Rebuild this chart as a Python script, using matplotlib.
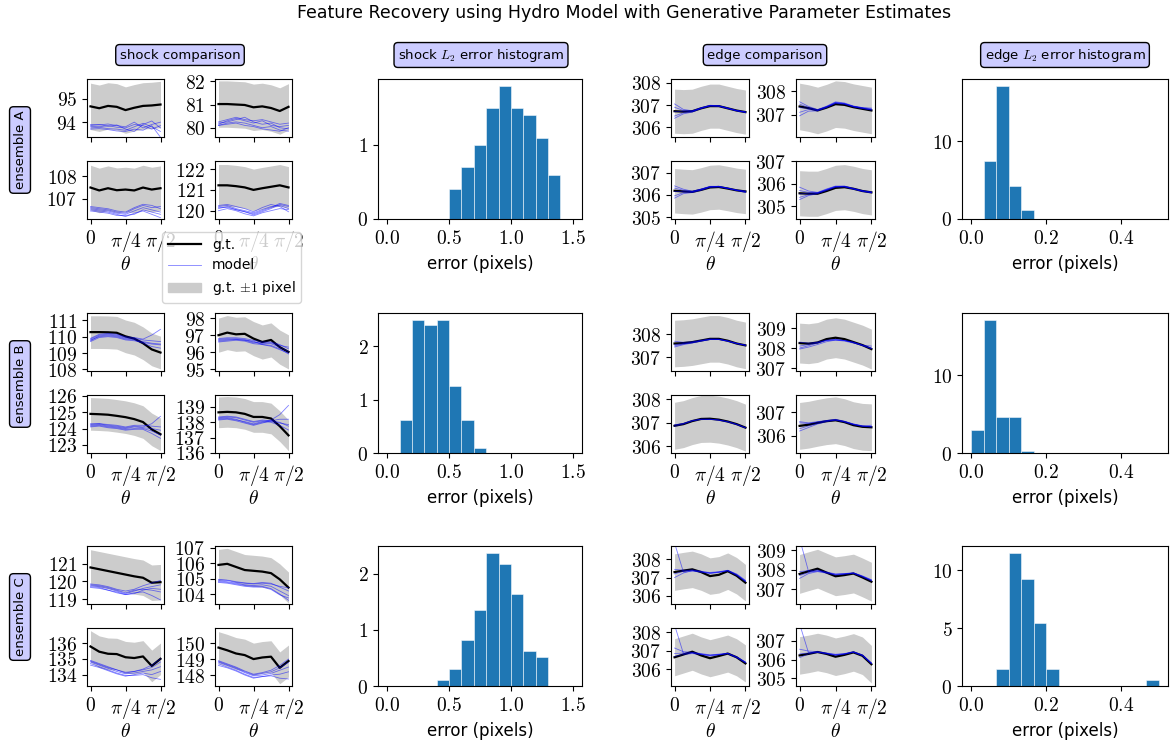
import numpy as np
import matplotlib
matplotlib.use('Agg')
import matplotlib.pyplot as plt
from matplotlib.ticker import MultipleLocator, FormatStrFormatter
from matplotlib.lines import Line2D
from matplotlib.patches import Patch

plt.rcParams['font.family'] = 'DejaVu Sans'
plt.rcParams['mathtext.fontset'] = 'cm'
plt.rcParams['font.size'] = 12
plt.rcParams['xtick.labelsize'] = 14
plt.rcParams['ytick.labelsize'] = 14

W, H = 1170, 751

# angle samples for the comparison panels (0 .. pi/2)
theta = np.linspace(0, np.pi / 2, 9)

# ---- shock comparison: panels ordered top-left, top-right, bottom-left, bottom-right
shock_gt_A = [
    [94.68, 94.60, 94.70, 94.66, 94.52, 94.62, 94.70, 94.72, 94.76],
    [81.02, 81.02, 81.00, 80.98, 80.88, 80.92, 80.85, 80.72, 80.90],
    [107.50, 107.37, 107.47, 107.38, 107.41, 107.37, 107.50, 107.41, 107.47],
    [121.22, 121.22, 121.18, 121.12, 121.00, 121.08, 121.15, 121.22, 121.12],
]
shock_model_A = [
    [[93.82, 93.80, 93.85, 93.78, 93.75, 93.90, 93.85, 93.70, 93.85],
     [93.75, 93.78, 93.72, 93.70, 93.65, 93.80, 93.95, 93.80, 93.60],
     [93.90, 93.88, 93.92, 93.85, 93.80, 94.00, 93.75, 93.90, 94.00],
     [93.70, 93.72, 93.68, 93.62, 93.60, 93.70, 93.65, 93.85, 93.35],
     [93.85, 93.90, 93.82, 93.88, 93.70, 93.60, 93.90, 94.05, 93.75]],
    [[80.15, 80.30, 80.40, 80.30, 80.20, 80.30, 80.10, 80.05, 80.10],
     [80.20, 80.25, 80.35, 80.45, 80.25, 80.15, 80.20, 80.00, 79.95],
     [80.10, 80.20, 80.25, 80.20, 80.10, 80.00, 80.05, 79.90, 79.85],
     [80.25, 80.35, 80.45, 80.35, 80.30, 80.35, 80.25, 80.15, 80.20],
     [80.10, 80.15, 80.20, 80.10, 80.05, 79.95, 79.90, 79.85, 80.00]],
    [[106.55, 106.50, 106.45, 106.35, 106.30, 106.45, 106.60, 106.50, 106.40],
     [106.60, 106.55, 106.50, 106.40, 106.35, 106.55, 106.70, 106.60, 106.65],
     [106.50, 106.45, 106.40, 106.30, 106.20, 106.35, 106.45, 106.30, 106.15],
     [106.65, 106.60, 106.55, 106.45, 106.40, 106.60, 106.75, 106.70, 106.55],
     [106.45, 106.40, 106.35, 106.25, 106.25, 106.30, 106.50, 106.40, 106.30]],
    [[120.20, 120.25, 120.10, 120.00, 119.90, 120.05, 120.20, 120.25, 120.10],
     [120.10, 120.20, 120.05, 119.95, 119.80, 119.95, 120.10, 120.30, 120.20],
     [120.25, 120.30, 120.20, 120.10, 119.95, 120.15, 120.30, 120.20, 119.95],
     [120.00, 120.10, 120.00, 119.85, 119.75, 119.90, 120.00, 120.10, 120.05],
     [120.15, 120.15, 120.05, 119.95, 119.85, 120.00, 120.15, 120.35, 120.25]],
]
shock_ylim_A = [(93.36, 95.86), (79.6, 82.1), (106.09, 108.69), (119.6, 122.39)]

shock_gt_B = [
    [110.28, 110.28, 110.27, 110.24, 110.02, 109.88, 109.60, 109.22, 109.03],
    [97.00, 97.15, 97.05, 97.08, 96.80, 96.60, 96.72, 96.30, 96.02],
    [124.90, 124.88, 124.85, 124.78, 124.70, 124.58, 124.40, 123.95, 123.65],
    [138.65, 138.68, 138.65, 138.55, 138.35, 138.35, 138.25, 137.75, 137.15],
]
shock_model_B = [
    [[109.75, 110.05, 110.10, 110.05, 109.90, 109.85, 109.70, 109.60, 109.55],
     [109.85, 110.10, 110.15, 110.10, 109.95, 109.90, 109.80, 109.75, 109.70],
     [109.80, 110.00, 110.05, 110.00, 109.85, 109.80, 109.60, 109.40, 109.30],
     [109.90, 110.15, 110.20, 110.15, 110.00, 109.95, 109.85, 110.10, 110.45],
     [109.70, 109.95, 110.00, 109.95, 109.80, 109.75, 109.65, 109.55, 109.50]],
    [[96.70, 96.75, 96.80, 96.75, 96.60, 96.50, 96.50, 96.30, 96.05],
     [96.60, 96.65, 96.70, 96.65, 96.50, 96.45, 96.40, 96.20, 95.90],
     [96.80, 96.85, 96.85, 96.80, 96.70, 96.60, 96.60, 96.45, 96.20],
     [96.65, 96.70, 96.75, 96.70, 96.55, 96.55, 96.55, 96.40, 96.30],
     [96.75, 96.80, 96.75, 96.70, 96.65, 96.45, 96.35, 96.15, 95.95]],
    [[124.20, 124.25, 124.15, 124.10, 124.00, 124.10, 124.05, 124.00, 123.90],
     [124.25, 124.30, 124.20, 124.15, 124.05, 124.15, 124.10, 124.30, 124.75],
     [124.15, 124.20, 124.10, 124.05, 123.95, 124.00, 123.95, 123.70, 123.40],
     [124.30, 124.30, 124.25, 124.20, 124.10, 124.20, 124.20, 124.15, 124.10],
     [124.10, 124.15, 124.05, 124.00, 123.90, 123.95, 124.00, 123.85, 123.60]],
    [[138.25, 138.30, 138.20, 138.00, 137.85, 138.00, 138.05, 137.95, 137.85],
     [138.20, 138.25, 138.15, 138.05, 137.90, 138.05, 138.15, 138.50, 139.10],
     [138.30, 138.35, 138.30, 138.15, 138.00, 138.10, 138.00, 137.80, 137.50],
     [138.15, 138.20, 138.10, 137.95, 137.80, 137.95, 138.10, 138.20, 138.20],
     [138.35, 138.40, 138.35, 138.20, 138.05, 138.15, 138.10, 138.00, 137.75]],
]
shock_ylim_B = [(107.9, 111.45), (94.9, 98.3), (122.5, 126.06), (136.0, 139.78)]

shock_gt_C = [
    [120.78, 120.68, 120.58, 120.48, 120.38, 120.28, 120.20, 119.92, 119.95],
    [105.88, 105.95, 105.75, 105.55, 105.50, 105.45, 105.35, 104.95, 104.42],
    [135.78, 135.45, 135.32, 135.30, 135.10, 135.05, 135.15, 134.55, 135.00],
    [149.72, 149.55, 149.35, 149.25, 149.00, 149.10, 149.15, 148.45, 148.88],
]
shock_model_C = [
    [[119.75, 119.70, 119.60, 119.45, 119.30, 119.45, 119.60, 119.70, 119.80],
     [119.85, 119.80, 119.70, 119.55, 119.45, 119.55, 119.75, 119.90, 120.05],
     [119.70, 119.65, 119.50, 119.35, 119.25, 119.35, 119.40, 119.20, 118.95],
     [119.80, 119.75, 119.65, 119.50, 119.35, 119.50, 119.55, 119.50, 119.40],
     [119.65, 119.60, 119.50, 119.40, 119.25, 119.30, 119.50, 119.60, 119.55]],
    [[104.85, 104.80, 104.70, 104.60, 104.55, 104.60, 104.50, 104.20, 103.90],
     [104.90, 104.88, 104.75, 104.70, 104.65, 104.70, 104.65, 104.50, 104.40],
     [104.80, 104.75, 104.65, 104.55, 104.50, 104.50, 104.35, 104.00, 103.60],
     [104.95, 104.90, 104.80, 104.72, 104.68, 104.75, 104.70, 104.45, 104.20],
     [104.75, 104.70, 104.60, 104.50, 104.45, 104.45, 104.30, 103.95, 103.75]],
    [[134.80, 134.60, 134.40, 134.20, 134.05, 134.10, 134.20, 134.30, 134.50],
     [134.90, 134.70, 134.50, 134.30, 134.15, 134.20, 134.35, 134.60, 135.00],
     [134.70, 134.50, 134.30, 134.10, 133.95, 133.95, 134.00, 133.80, 133.70],
     [134.85, 134.65, 134.45, 134.30, 134.10, 134.20, 134.30, 134.45, 134.80],
     [134.60, 134.45, 134.25, 134.05, 133.90, 134.00, 134.10, 134.00, 134.20]],
    [[148.80, 148.60, 148.40, 148.15, 147.95, 148.00, 148.10, 148.30, 148.50],
     [148.90, 148.70, 148.50, 148.25, 148.05, 148.15, 148.30, 148.60, 149.00],
     [148.70, 148.50, 148.30, 148.05, 147.85, 147.90, 147.95, 147.80, 147.75],
     [148.85, 148.65, 148.45, 148.20, 148.00, 148.10, 148.20, 148.45, 148.80],
     [148.60, 148.45, 148.25, 148.00, 147.80, 147.90, 148.00, 148.05, 148.20]],
]
shock_ylim_C = [(118.72, 121.99), (103.36, 107.1), (133.28, 136.95), (147.31, 150.95)]

# ---- edge comparison
edge_gt_A = [
    [306.72, 306.70, 306.72, 306.85, 306.95, 306.95, 306.85, 306.75, 306.68],
    [307.35, 307.28, 307.18, 307.30, 307.45, 307.42, 307.32, 307.25, 307.18],
    [306.18, 306.15, 306.13, 306.22, 306.33, 306.35, 306.28, 306.20, 306.15],
    [305.58, 305.56, 305.56, 305.68, 305.82, 305.85, 305.78, 305.68, 305.62],
]
edge_model_A = [
    [[306.90, 306.75, 306.72, 306.87, 306.97, 306.96, 306.86, 306.75, 306.68],
     [306.50, 306.65, 306.70, 306.85, 306.96, 306.95, 306.85, 306.74, 306.66],
     [307.05, 306.80, 306.74, 306.88, 306.99, 306.97, 306.87, 306.76, 306.69],
     [306.40, 306.60, 306.68, 306.84, 306.95, 306.94, 306.84, 306.73, 306.67],
     [306.70, 306.72, 306.72, 306.86, 306.98, 306.96, 306.85, 306.74, 306.68]],
    [[307.45, 307.30, 307.20, 307.35, 307.52, 307.48, 307.35, 307.28, 307.22],
     [307.10, 307.22, 307.18, 307.32, 307.50, 307.46, 307.34, 307.27, 307.20],
     [307.55, 307.35, 307.22, 307.36, 307.55, 307.50, 307.37, 307.30, 307.25],
     [306.95, 307.15, 307.16, 307.30, 307.48, 307.45, 307.33, 307.26, 307.20],
     [307.30, 307.27, 307.19, 307.33, 307.52, 307.47, 307.36, 307.30, 307.28]],
    [[306.30, 306.20, 306.15, 306.25, 306.37, 306.38, 306.30, 306.22, 306.16],
     [305.95, 306.10, 306.12, 306.22, 306.35, 306.36, 306.29, 306.20, 306.15],
     [306.40, 306.25, 306.16, 306.26, 306.38, 306.38, 306.30, 306.20, 306.10],
     [305.85, 306.05, 306.10, 306.20, 306.33, 306.35, 306.28, 306.19, 306.12],
     [306.15, 306.15, 306.14, 306.24, 306.36, 306.37, 306.29, 306.21, 306.16]],
    [[305.70, 305.62, 305.60, 305.75, 305.88, 305.88, 305.78, 305.68, 305.62],
     [305.40, 305.52, 305.58, 305.72, 305.86, 305.87, 305.77, 305.67, 305.60],
     [305.85, 305.68, 305.62, 305.77, 305.90, 305.90, 305.80, 305.70, 305.64],
     [305.30, 305.48, 305.56, 305.70, 305.85, 305.86, 305.76, 305.66, 305.60],
     [305.55, 305.58, 305.60, 305.74, 305.88, 305.89, 305.78, 305.69, 305.63]],
]
edge_ylim_A = [(305.55, 308.18), (306.04, 308.53), (304.91, 307.52), (304.44, 307.01)]

edge_gt_B = [
    [307.60, 307.62, 307.66, 307.73, 307.80, 307.80, 307.72, 307.60, 307.52],
    [308.25, 308.22, 308.28, 308.45, 308.52, 308.45, 308.30, 308.15, 307.95],
    [306.88, 306.95, 307.08, 307.17, 307.18, 307.14, 307.06, 306.95, 306.80],
    [306.42, 306.47, 306.55, 306.62, 306.66, 306.58, 306.45, 306.38, 306.36],
]
edge_model_B = [
    [[307.55, 307.60, 307.65, 307.72, 307.78, 307.78, 307.70, 307.60, 307.52],
     [307.45, 307.55, 307.62, 307.70, 307.77, 307.77, 307.70, 307.60, 307.52],
     [307.70, 307.65, 307.68, 307.74, 307.80, 307.79, 307.71, 307.60, 307.53],
     [307.50, 307.58, 307.64, 307.71, 307.77, 307.78, 307.71, 307.61, 307.53]],
    [[308.00, 308.12, 308.25, 308.38, 308.42, 308.38, 308.28, 308.12, 307.98],
     [308.10, 308.18, 308.28, 308.38, 308.40, 308.35, 308.25, 308.15, 308.10],
     [307.95, 308.05, 308.18, 308.32, 308.40, 308.38, 308.30, 308.15, 308.00],
     [308.30, 308.25, 308.30, 308.40, 308.44, 308.38, 308.28, 308.14, 307.97]],
    [[306.90, 306.97, 307.10, 307.16, 307.15, 307.12, 307.05, 306.94, 306.80],
     [306.85, 306.95, 307.08, 307.15, 307.16, 307.13, 307.06, 306.95, 306.80],
     [306.92, 306.98, 307.10, 307.16, 307.16, 307.12, 307.04, 306.93, 306.79]],
    [[306.55, 306.52, 306.58, 306.64, 306.68, 306.60, 306.50, 306.42, 306.40],
     [306.30, 306.42, 306.53, 306.62, 306.67, 306.60, 306.48, 306.40, 306.38],
     [306.20, 306.35, 306.50, 306.60, 306.66, 306.58, 306.47, 306.40, 306.45],
     [306.60, 306.55, 306.60, 306.65, 306.70, 306.62, 306.50, 306.42, 306.37]],
]
edge_ylim_B = [(306.42, 308.91), (306.85, 309.76), (305.72, 308.19), (305.26, 307.74)]

edge_gt_C = [
    [307.30, 307.38, 307.45, 307.30, 307.08, 307.15, 307.35, 307.10, 306.72],
    [307.78, 307.92, 308.05, 307.85, 307.66, 307.72, 307.80, 307.60, 307.38],
    [306.65, 306.80, 306.95, 306.75, 306.60, 306.72, 306.85, 306.65, 306.32],
    [306.22, 306.30, 306.40, 306.30, 306.15, 306.25, 306.38, 306.20, 305.75],
]
edge_model_C = [
    [[307.20, 307.35, 307.42, 307.35, 307.25, 307.30, 307.38, 307.15, 306.80],
     [307.45, 307.40, 307.40, 307.32, 307.28, 307.32, 307.40, 307.20, 306.85],
     [307.00, 307.25, 307.38, 307.30, 307.22, 307.28, 307.36, 307.12, 306.78],
     [308.90, 307.30, 307.35, 307.30, 307.25, 307.30, 307.38, 307.16, 306.82]],
    [[307.70, 307.85, 307.95, 307.85, 307.75, 307.78, 307.82, 307.65, 307.45],
     [307.90, 307.95, 307.98, 307.88, 307.78, 307.80, 307.84, 307.68, 307.48],
     [307.55, 307.80, 307.90, 307.82, 307.72, 307.76, 307.80, 307.62, 307.42],
     [309.60, 307.90, 307.92, 307.85, 307.76, 307.79, 307.83, 307.66, 307.46]],
    [[306.85, 306.88, 306.90, 306.82, 306.75, 306.80, 306.85, 306.65, 306.38],
     [307.15, 306.95, 306.92, 306.85, 306.78, 306.82, 306.87, 306.68, 306.40],
     [306.70, 306.80, 306.85, 306.80, 306.72, 306.78, 306.84, 306.63, 306.35],
     [308.40, 306.85, 306.88, 306.82, 306.76, 306.80, 306.86, 306.66, 306.37]],
    [[306.30, 306.35, 306.40, 306.32, 306.25, 306.30, 306.40, 306.22, 305.80],
     [306.55, 306.45, 306.42, 306.35, 306.28, 306.32, 306.42, 306.25, 305.82],
     [306.10, 306.30, 306.38, 306.30, 306.22, 306.28, 306.38, 306.20, 305.78],
     [307.90, 306.35, 306.40, 306.33, 306.26, 306.30, 306.40, 306.23, 305.80]],
]
edge_ylim_C = [(305.55, 308.73), (306.23, 309.22), (305.1, 308.23), (304.59, 307.68)]

# ---- error histograms (density per bin)
shock_bins = np.linspace(0, 1.5, 16)
edge_bins = np.linspace(0, 0.5, 16)
shock_hist_A = [0, 0, 0, 0, 0, 0.40, 0.70, 1.00, 1.50, 1.80, 1.50, 1.40, 1.10, 0.60, 0]
shock_hist_B = [0, 0.62, 2.50, 2.40, 2.50, 1.25, 0.62, 0.10, 0, 0, 0, 0, 0, 0, 0]
shock_hist_C = [0, 0, 0, 0, 0.10, 0.31, 0.82, 1.35, 2.38, 2.17, 1.65, 0.62, 0.52, 0, 0]
edge_hist_A = [0, 7.5, 17.1, 4.2, 1.1, 0, 0, 0, 0, 0, 0, 0, 0, 0, 0]
edge_hist_B = [3.0, 17.1, 4.6, 4.6, 0.2, 0, 0, 0, 0, 0, 0, 0, 0, 0, 0]
edge_hist_C = [0, 0, 1.5, 11.5, 9.2, 5.4, 1.5, 0, 0, 0, 0, 0, 0, 0, 0.55]

ensembles = ['A', 'B', 'C']
block_top = [79, 313, 546]

fig = plt.figure(figsize=(W / 100., H / 100.), dpi=100)


def px_axes(x0, y0, x1, y1):
    return fig.add_axes([x0 / W, 1 - y1 / H, (x1 - x0) / W, (y1 - y0) / H])


def comparison(ax, gt, models, ylim, bottom):
    gt = np.array(gt)
    ax.fill_between(theta, gt - 1, gt + 1, color='0.8', lw=0)
    ax.plot(theta, gt, color='black', lw=1.6)
    for m in models:
        ax.plot(theta, m, color='blue', lw=0.6, alpha=0.5)
    ax.set_ylim(ylim)
    ax.yaxis.set_major_locator(MultipleLocator(1))
    ax.yaxis.set_major_formatter(FormatStrFormatter('$%d$'))
    ax.set_xticks([0, np.pi / 4, np.pi / 2])
    if bottom:
        ax.set_xticklabels(['$0$', r'$\pi/4$', r'$\pi/2$'])
        ax.set_xlabel(r'$\theta$', labelpad=1, fontsize=14)
    else:
        ax.set_xticklabels([])


def histogram(ax, heights, bins, xstep, ystep):
    ax.hist(bins[:-1], bins=bins, weights=heights, color='#1f77b4',
            edgecolor=(1, 1, 1, 0.6), linewidth=0.6)
    ax.xaxis.set_major_locator(MultipleLocator(xstep))
    ax.xaxis.set_major_formatter(FormatStrFormatter('$%.1f$'))
    ax.yaxis.set_major_locator(MultipleLocator(ystep))
    ax.yaxis.set_major_formatter(FormatStrFormatter('$%g$'))
    ax.set_xlabel('error (pixels)', labelpad=5)


shock_gt = [shock_gt_A, shock_gt_B, shock_gt_C]
shock_model = [shock_model_A, shock_model_B, shock_model_C]
shock_ylim = [shock_ylim_A, shock_ylim_B, shock_ylim_C]
edge_gt = [edge_gt_A, edge_gt_B, edge_gt_C]
edge_model = [edge_model_A, edge_model_B, edge_model_C]
edge_ylim = [edge_ylim_A, edge_ylim_B, edge_ylim_C]
shock_hist = [shock_hist_A, shock_hist_B, shock_hist_C]
edge_hist = [edge_hist_A, edge_hist_B, edge_hist_C]
edge_ystep = [10, 10, 5]

shock_cols = [(87, 164), (215, 292)]
edge_cols = [(671, 749), (796, 875)]

for r in range(3):
    top = block_top[r]
    rows = [(top, top + 58), (top + 82, top + 140)]
    for k in range(4):
        i, j = k // 2, k % 2
        ax = px_axes(shock_cols[j][0], rows[i][0], shock_cols[j][1], rows[i][1])
        comparison(ax, shock_gt[r][k], shock_model[r][k], shock_ylim[r][k], i == 1)
        ax = px_axes(edge_cols[j][0], rows[i][0], edge_cols[j][1], rows[i][1])
        comparison(ax, edge_gt[r][k], edge_model[r][k], edge_ylim[r][k], i == 1)
    ax = px_axes(378, top, 582, top + 140)
    histogram(ax, shock_hist[r], shock_bins, 0.5, 1)
    ax = px_axes(962, top, 1168, top + 140)
    histogram(ax, edge_hist[r], edge_bins, 0.2, edge_ystep[r])

    fig.text(20 / W, 1 - (top + 71) / H, 'ensemble ' + ensembles[r], rotation=90,
             ha='center', va='center', fontsize=9.5,
             bbox=dict(boxstyle='round,pad=0.3', fc='#ccccff', ec='black', lw=1))

box = dict(boxstyle='round,pad=0.3', fc='#ccccff', ec='black', lw=1)
fig.text(180 / W, 1 - 55 / H, 'shock comparison', ha='center', va='center', fontsize=9.5, bbox=box)
fig.text(481 / W, 1 - 55 / H, r'shock $L_2$ error histogram', ha='center', va='center', fontsize=9.5, bbox=box)
fig.text(765 / W, 1 - 55 / H, 'edge comparison', ha='center', va='center', fontsize=9.5, bbox=box)
fig.text(1065 / W, 1 - 55 / H, r'edge $L_2$ error histogram', ha='center', va='center', fontsize=9.5, bbox=box)

fig.text(624 / W, 1 - 13 / H, 'Feature Recovery using Hydro Model with Generative Parameter Estimates',
         ha='center', va='center', fontsize=12.5)

handles = [Line2D([], [], color='black', lw=1.6),
           Line2D([], [], color='blue', lw=0.6, alpha=0.5),
           Patch(color='0.8')]
fig.legend(handles, ['g.t.', 'model', r'g.t. $\pm1$ pixel'], loc='upper left',
           bbox_to_anchor=(155 / W, 1 - 225 / H), fontsize=10, handlelength=2.4)

fig.savefig('out.png', dpi=100)
